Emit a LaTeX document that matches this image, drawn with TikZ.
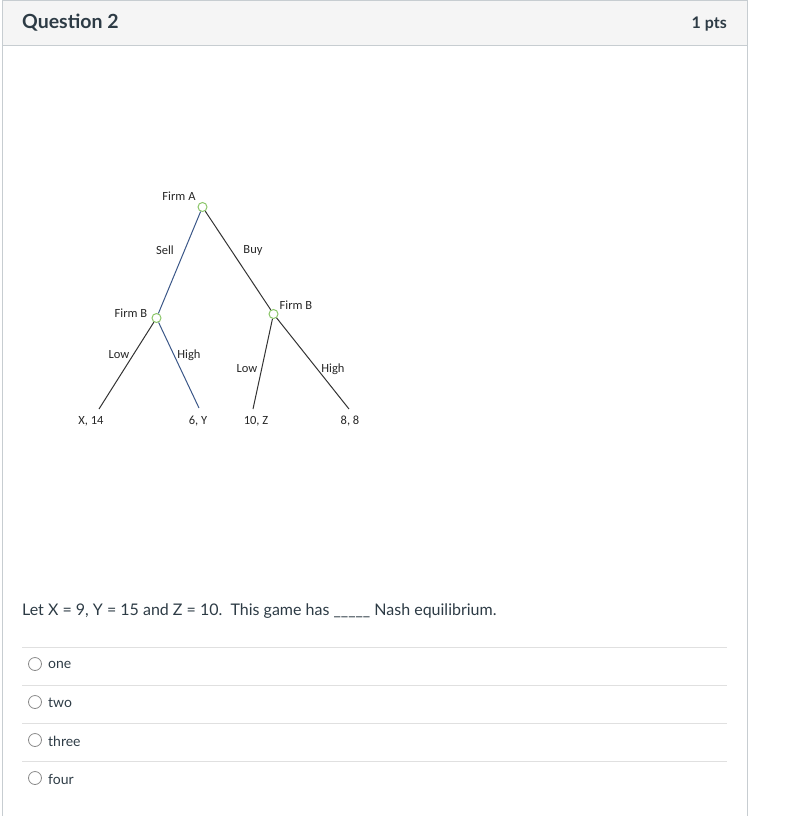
\documentclass[tikz,border=0pt]{standalone}
\usepackage{fontspec}
\setmainfont{Lato}
\newfontfamily\calib{Carlito}
\definecolor{txt}{HTML}{2D3B45}
\definecolor{hdrfill}{HTML}{F5F5F5}
\definecolor{bord}{HTML}{C7CDD1}
\definecolor{sep}{HTML}{E0E0E0}
\definecolor{bluel}{HTML}{3B5788}
\definecolor{darkl}{HTML}{333333}
\definecolor{greenc}{HTML}{8CC66A}
\definecolor{radio}{HTML}{8A8A8A}
\tikzset{
  treenode/.style={circle,draw=greenc,fill=white,line width=1pt,minimum size=9pt,inner sep=0pt},
  treelab/.style={font=\calib\fontsize{12.5}{14}\selectfont,text=black!85,inner sep=0pt},
  edgeblue/.style={draw=bluel,line width=1pt},
  edgedark/.style={draw=darkl,line width=1pt},
  radiobtn/.style={circle,draw=radio,line width=0.8pt,minimum size=13pt,inner sep=0pt,fill=white},
  opt/.style={font=\fontsize{14}{16}\selectfont,text=txt,anchor=west,inner sep=0pt},
  seprule/.style={draw=sep,line width=1pt}
}
\begin{document}
\begin{tikzpicture}[x=1pt,y=-1pt]
\useasboundingbox (0,0) rectangle (797,816);
% card
\fill[hdrfill] (2,0) rectangle (747,46);
\draw[bord,line width=1pt] (2,816) -- (2,0.5) -- (747,0.5) -- (747,816);
\draw[bord,line width=1pt] (2,46) -- (747,46);
\node[font=\bfseries\fontsize{19.5}{21}\selectfont,text=txt,anchor=west,inner sep=0pt] (title) at (22,22.5) {Question 2};
\node[font=\bfseries\fontsize{16}{18}\selectfont,text=txt,anchor=east,inner sep=0pt] (pts) at (727,24) {1 pts};
% tree
\node[treenode] (root) at (202.5,207) {};
\node[treenode] (bl) at (156.5,318) {};
\node[treenode] (br) at (273.5,314) {};
\coordinate (ll) at (99,409);
\coordinate (lh) at (199,408);
\coordinate (rl) at (253,409);
\coordinate (rh) at (349,409);
\draw[edgeblue] (root) -- (bl);
\draw[edgedark] (root) -- (br);
\draw[edgedark] (bl) -- (ll);
\draw[edgeblue] (bl) -- (lh);
\draw[edgedark] (br) -- (rl);
\draw[edgedark] (br) -- (rh);
\node[treelab] (fa) at (179,196) {Firm A};
\node[treelab] (sell) at (165,250) {Sell};
\node[treelab] (buy) at (253,250) {Buy};
\node[treelab] (fbl) at (131,313) {Firm B};
\node[treelab] (fbr) at (296,305) {Firm B};
\node[treelab] (lowl) at (119,355) {Low};
\node[treelab] (highl) at (189,355) {High};
\node[treelab] (lowr) at (247,369) {Low};
\node[treelab] (highr) at (333,369) {High};
\node[treelab] (p1) at (91,421) {X, 14};
\node[treelab] (p2) at (198,421) {6, Y};
\node[treelab] (p3) at (256,421) {10, Z};
\node[treelab] (p4) at (350,421) {8, 8};
% question
\node[font=\fontsize{16}{18}\selectfont,text=txt,anchor=west,inner sep=0pt] (q) at (22,611) {Let X = 9, Y = 15 and Z = 10.\ \ This game has \_\_\_\_\_ Nash equilibrium.};
% options
\draw[seprule] (22,647) -- (727,647);
\draw[seprule] (22,685) -- (727,685);
\draw[seprule] (22,723) -- (727,723);
\draw[seprule] (22,761) -- (727,761);
\node[radiobtn] (r1) at (35,664) {};
\node[radiobtn] (r2) at (35,702) {};
\node[radiobtn] (r3) at (35,740) {};
\node[radiobtn] (r4) at (35,778) {};
\node[opt] (o1) at (48,665) {one};
\node[opt] (o2) at (48,703) {two};
\node[opt] (o3) at (48,741) {three};
\node[opt] (o4) at (48,779) {four};
\end{tikzpicture}
\end{document}
